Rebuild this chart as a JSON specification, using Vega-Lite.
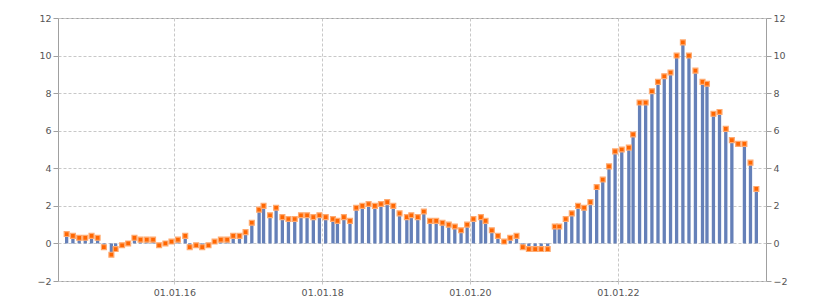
{
  "$schema": "https://vega.github.io/schema/vega-lite/v6.json",
  "width": 708,
  "height": 263,
  "autosize": {"type": "none"},
  "padding": {"left": 58, "top": 18, "right": 59, "bottom": 19},
  "data": {"values": [
    {"d": "2014-07-18", "v": 0.5, "b": 0.5},
    {"d": "2014-08-18", "v": 0.4, "b": 0.4},
    {"d": "2014-09-18", "v": 0.3, "b": 0.3},
    {"d": "2014-10-18", "v": 0.3, "b": 0.3},
    {"d": "2014-11-18", "v": 0.4, "b": 0.4},
    {"d": "2014-12-18", "v": 0.3, "b": 0.3},
    {"d": "2015-01-18", "v": -0.2, "b": -0.2},
    {"d": "2015-02-24", "v": -0.6, "b": -0.6},
    {"d": "2015-03-17", "v": -0.3, "b": -0.3},
    {"d": "2015-04-18", "v": -0.1, "b": -0.1},
    {"d": "2015-05-18", "v": 0.0, "b": 0.0},
    {"d": "2015-06-18", "v": 0.3, "b": 0.3},
    {"d": "2015-07-18", "v": 0.2, "b": 0.2},
    {"d": "2015-08-18", "v": 0.2, "b": 0.2},
    {"d": "2015-09-18", "v": 0.2, "b": 0.2},
    {"d": "2015-10-18", "v": -0.1, "b": -0.1},
    {"d": "2015-11-18", "v": 0.0, "b": 0.0},
    {"d": "2015-12-18", "v": 0.1, "b": 0.1},
    {"d": "2016-01-19", "v": 0.2, "b": 0.2},
    {"d": "2016-02-24", "v": 0.4, "b": 0.4},
    {"d": "2016-03-17", "v": -0.2, "b": -0.2},
    {"d": "2016-04-18", "v": -0.1, "b": -0.1},
    {"d": "2016-05-18", "v": -0.2, "b": -0.2},
    {"d": "2016-06-18", "v": -0.1, "b": -0.1},
    {"d": "2016-07-18", "v": 0.1, "b": 0.1},
    {"d": "2016-08-18", "v": 0.2, "b": 0.2},
    {"d": "2016-09-18", "v": 0.2, "b": 0.2},
    {"d": "2016-10-18", "v": 0.4, "b": 0.4},
    {"d": "2016-11-18", "v": 0.4, "b": 0.4},
    {"d": "2016-12-18", "v": 0.6, "b": 0.6},
    {"d": "2017-01-18", "v": 1.1, "b": 1.1},
    {"d": "2017-02-23", "v": 1.8, "b": 1.8},
    {"d": "2017-03-17", "v": 2.0, "b": 2.0},
    {"d": "2017-04-18", "v": 1.5, "b": 1.5},
    {"d": "2017-05-18", "v": 1.9, "b": 1.9},
    {"d": "2017-06-18", "v": 1.4, "b": 1.4},
    {"d": "2017-07-18", "v": 1.3, "b": 1.3},
    {"d": "2017-08-18", "v": 1.3, "b": 1.3},
    {"d": "2017-09-18", "v": 1.5, "b": 1.5},
    {"d": "2017-10-18", "v": 1.5, "b": 1.5},
    {"d": "2017-11-18", "v": 1.4, "b": 1.4},
    {"d": "2017-12-18", "v": 1.5, "b": 1.5},
    {"d": "2018-01-18", "v": 1.4, "b": 1.4},
    {"d": "2018-02-23", "v": 1.3, "b": 1.3},
    {"d": "2018-03-17", "v": 1.2, "b": 1.2},
    {"d": "2018-04-18", "v": 1.4, "b": 1.4},
    {"d": "2018-05-18", "v": 1.2, "b": 1.2},
    {"d": "2018-06-18", "v": 1.9, "b": 1.9},
    {"d": "2018-07-18", "v": 2.0, "b": 2.0},
    {"d": "2018-08-18", "v": 2.1, "b": 2.1},
    {"d": "2018-09-18", "v": 2.0, "b": 2.0},
    {"d": "2018-10-18", "v": 2.1, "b": 2.1},
    {"d": "2018-11-18", "v": 2.2, "b": 2.2},
    {"d": "2018-12-18", "v": 2.0, "b": 2.0},
    {"d": "2019-01-18", "v": 1.6, "b": 1.6},
    {"d": "2019-02-23", "v": 1.4, "b": 1.4},
    {"d": "2019-03-17", "v": 1.5, "b": 1.5},
    {"d": "2019-04-18", "v": 1.4, "b": 1.4},
    {"d": "2019-05-18", "v": 1.7, "b": 1.7},
    {"d": "2019-06-18", "v": 1.2, "b": 1.2},
    {"d": "2019-07-18", "v": 1.2, "b": 1.2},
    {"d": "2019-08-18", "v": 1.1, "b": 1.1},
    {"d": "2019-09-18", "v": 1.0, "b": 1.0},
    {"d": "2019-10-18", "v": 0.9, "b": 0.9},
    {"d": "2019-11-18", "v": 0.7, "b": 0.7},
    {"d": "2019-12-18", "v": 1.0, "b": 1.0},
    {"d": "2020-01-18", "v": 1.3, "b": 1.3},
    {"d": "2020-02-24", "v": 1.4, "b": 1.4},
    {"d": "2020-03-18", "v": 1.2, "b": 1.2},
    {"d": "2020-04-18", "v": 0.7, "b": 0.7},
    {"d": "2020-05-18", "v": 0.4, "b": 0.4},
    {"d": "2020-06-18", "v": 0.1, "b": 0.1},
    {"d": "2020-07-18", "v": 0.3, "b": 0.3},
    {"d": "2020-08-18", "v": 0.4, "b": 0.4},
    {"d": "2020-09-18", "v": -0.2, "b": -0.2},
    {"d": "2020-10-18", "v": -0.3, "b": -0.3},
    {"d": "2020-11-18", "v": -0.3, "b": -0.3},
    {"d": "2020-12-18", "v": -0.3, "b": -0.3},
    {"d": "2021-01-19", "v": -0.3, "b": -0.3},
    {"d": "2021-02-23", "v": 0.9, "b": 0.9},
    {"d": "2021-03-17", "v": 0.9, "b": 0.9},
    {"d": "2021-04-18", "v": 1.3, "b": 1.3},
    {"d": "2021-05-18", "v": 1.6, "b": 1.6},
    {"d": "2021-06-18", "v": 2.0, "b": 2.0},
    {"d": "2021-07-18", "v": 1.9, "b": 1.9},
    {"d": "2021-08-18", "v": 2.2, "b": 2.2},
    {"d": "2021-09-18", "v": 3.0, "b": 3.0},
    {"d": "2021-10-18", "v": 3.4, "b": 3.4},
    {"d": "2021-11-18", "v": 4.1, "b": 4.1},
    {"d": "2021-12-18", "v": 4.9, "b": 4.9},
    {"d": "2022-01-20", "v": 5.0, "b": 5.0},
    {"d": "2022-02-24", "v": 5.1, "b": 5.1},
    {"d": "2022-03-17", "v": 5.8, "b": 5.9},
    {"d": "2022-04-18", "v": 7.5, "b": 7.4},
    {"d": "2022-05-18", "v": 7.5, "b": 7.4},
    {"d": "2022-06-18", "v": 8.1, "b": 8.1},
    {"d": "2022-07-18", "v": 8.6, "b": 8.6},
    {"d": "2022-08-18", "v": 8.9, "b": 8.9},
    {"d": "2022-09-18", "v": 9.1, "b": 9.1},
    {"d": "2022-10-18", "v": 10.0, "b": 9.9},
    {"d": "2022-11-18", "v": 10.7, "b": 10.6},
    {"d": "2022-12-18", "v": 10.0, "b": 10.0},
    {"d": "2023-01-19", "v": 9.2, "b": 9.2},
    {"d": "2023-02-23", "v": 8.6, "b": 8.6},
    {"d": "2023-03-17", "v": 8.5, "b": 8.5},
    {"d": "2023-04-18", "v": 6.9, "b": 6.9},
    {"d": "2023-05-18", "v": 7.0, "b": 7.0},
    {"d": "2023-06-18", "v": 6.1, "b": 6.1},
    {"d": "2023-07-18", "v": 5.5, "b": 5.5},
    {"d": "2023-08-18", "v": 5.3, "b": null},
    {"d": "2023-09-18", "v": 5.3, "b": 5.2},
    {"d": "2023-10-18", "v": 4.3, "b": 4.3},
    {"d": "2023-11-16", "v": 2.9, "b": 2.9}
  ]},
  "encoding": {
    "x": {
      "field": "d",
      "type": "temporal",
      "title": null,
      "scale": {"type": "utc", "domain": ["2014-06-30", "2023-12-09"], "nice": false},
      "axis": {
        "values": [
          {"year": 2016, "month": 1, "date": 1, "utc": true},
          {"year": 2018, "month": 1, "date": 1, "utc": true},
          {"year": 2020, "month": 1, "date": 1, "utc": true},
          {"year": 2022, "month": 1, "date": 1, "utc": true}
        ],
        "labelExpr": "utcFormat(datum.value, '%d.%m.%y')",
        "grid": true,
        "gridDash": [3, 2],
        "gridColor": "#c8c8c8",
        "tickSize": 3,
        "tickColor": "#c8c8c8",
        "labelPadding": 3,
        "domain": false
      }
    }
  },
  "layer": [
    {
      "mark": {"type": "bar", "size": 3.3, "color": "#6580b8"},
      "encoding": {
        "y": {
          "field": "b",
          "type": "quantitative",
          "title": null,
          "scale": {"domain": [-2, 12], "nice": false, "zero": false},
          "axis": {
            "orient": "left",
            "values": [-2, 0, 2, 4, 6, 8, 10, 12],
            "grid": true,
            "gridDash": [3, 2],
            "gridColor": "#c8c8c8",
            "tickSize": 5,
            "labelPadding": 2,
            "domain": false
          }
        },
        "y2": {"datum": 0}
      }
    },
    {
      "mark": {"type": "point", "shape": "square", "size": 24, "filled": true, "fill": "#ff6600", "stroke": "#ffaa70", "strokeWidth": 1.2, "opacity": 1},
      "encoding": {
        "y": {
          "field": "v",
          "type": "quantitative",
          "title": null,
          "scale": {"domain": [-2, 12], "nice": false, "zero": false},
          "axis": {
            "orient": "right",
            "values": [-2, 0, 2, 4, 6, 8, 10, 12],
            "grid": false,
            "tickSize": 5,
            "labelPadding": 2,
            "domain": false
          }
        }
      }
    }
  ],
  "resolve": {"axis": {"y": "independent"}},
  "config": {
    "view": {"stroke": "#a0a0a0", "strokeWidth": 1},
    "axis": {
      "labelFont": "DejaVu Sans",
      "labelFontSize": 9.5,
      "labelColor": "#555555",
      "tickColor": "#a0a0a0",
      "domainColor": "#a0a0a0"
    }
  }
}
